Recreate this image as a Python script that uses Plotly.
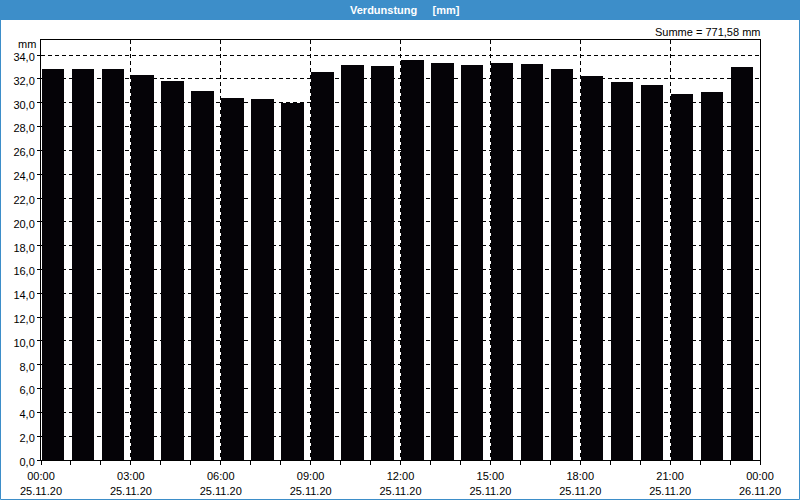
import plotly.graph_objects as go

# Data
hours = list(range(24))
values = [32.87, 32.87, 32.87, 32.36, 31.85, 31.00, 30.40, 30.31, 29.95, 32.61,
          33.21, 33.12, 33.63, 33.38, 33.21, 33.38, 33.29, 32.87, 32.27, 31.76,
          31.50, 30.74, 30.91, 33.04]
tick_vals = [0, 3, 6, 9, 12, 15, 18, 21, 24]
tick_text = ["00:00<br>25.11.20", "03:00<br>25.11.20", "06:00<br>25.11.20",
             "09:00<br>25.11.20", "12:00<br>25.11.20", "15:00<br>25.11.20",
             "18:00<br>25.11.20", "21:00<br>25.11.20", "00:00<br>26.11.20"]
title_text = "Verdunstung&nbsp;&nbsp;&nbsp;&nbsp;&nbsp;[mm]"
sum_text = "Summe = 771,58 mm"
y_unit = "mm"

W, H = 800, 500
L, R, T, B = 41, 40, 40, 40
pw, ph = W - L - R, H - T - B

def px(x):
    return (x - L) / pw

def py(y):
    return (H - B - y) / ph

FONT = "Liberation Sans"

fig = go.Figure()
fig.add_trace(go.Bar(
    x=hours, y=values, width=0.75, offset=0.02,
    marker=dict(color="#050307", line=dict(width=0)),
))

fig.update_layout(
    width=W, height=H,
    margin=dict(l=L, r=R, t=T, b=B, autoexpand=False),
    paper_bgcolor="white", plot_bgcolor="white",
    separators=",.",
    showlegend=False,
    font=dict(family=FONT, size=11, color="black"),
    xaxis=dict(
        range=[0, 24], tickvals=tick_vals, ticktext=tick_text,
        showgrid=True, gridcolor="black", griddash="4px,3px", gridwidth=1,
        showline=True, linecolor="black", linewidth=1, mirror=True,
        ticks="outside", ticklen=4, tickcolor="black", ticklabelstandoff=2,
        minor=dict(dtick=1, tick0=0, ticks="outside", ticklen=4, tickcolor="black", showgrid=False),
        zeroline=False, fixedrange=True, automargin=False,
    ),
    yaxis=dict(
        range=[0, 35.27], dtick=2, tick0=0, tickformat=".1f",
        showgrid=True, gridcolor="black", griddash="4px,3px", gridwidth=1,
        showline=True, linecolor="black", linewidth=1, mirror=True,
        ticks="outside", ticklen=3, tickcolor="black", ticklabelshift=2,
        zeroline=False, fixedrange=True, automargin=False,
    ),
    bargap=0,
)

shapes = [
    # title bar
    dict(type="rect", xref="paper", yref="paper",
         x0=px(0), x1=px(800), y0=py(20), y1=py(0),
         fillcolor="#3d8ec9", line=dict(width=0), layer="above"),
    # outer frame
    dict(type="rect", xref="paper", yref="paper",
         x0=px(0.5), x1=px(799.5), y0=py(499.5), y1=py(0.5),
         fillcolor="rgba(0,0,0,0)", line=dict(color="#3d8ec9", width=1), layer="above"),
]
fig.update_layout(shapes=shapes)

fig.add_annotation(text="<b>" + title_text + "</b>", xref="paper", yref="paper",
                   x=px(405), y=py(10), xanchor="center", yanchor="middle",
                   showarrow=False, font=dict(color="white", size=11, family=FONT))
fig.add_annotation(text=sum_text, xref="paper", yref="paper",
                   x=px(762), y=py(32), xanchor="right", yanchor="middle",
                   showarrow=False, font=dict(size=11, family=FONT))
fig.add_annotation(text=y_unit, xref="paper", yref="paper",
                   x=px(38), y=py(44), xanchor="right", yanchor="middle",
                   showarrow=False, font=dict(size=11, family=FONT))

fig.write_html("out.html")
